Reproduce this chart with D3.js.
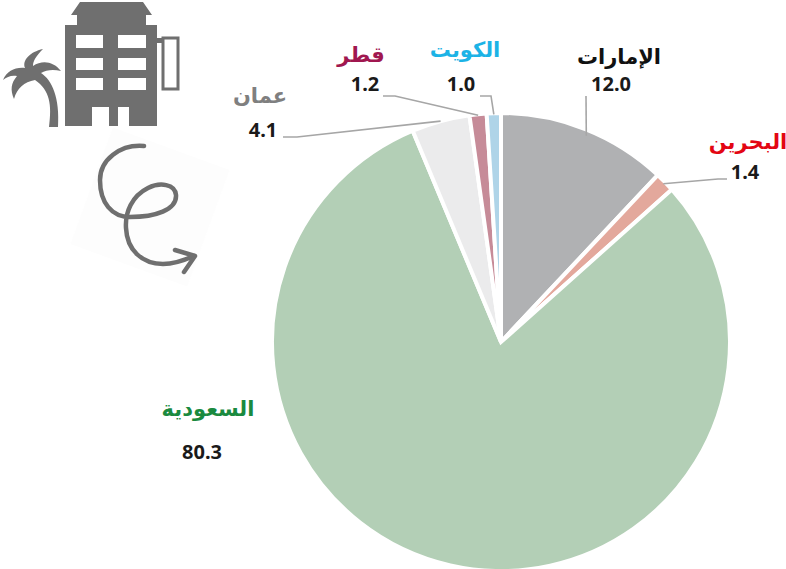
<!DOCTYPE html>
<html lang="ar"><head><meta charset="utf-8">
<script src="https://cdn.jsdelivr.net/npm/d3@7"></script>
<style>html,body{margin:0;padding:0;background:#fff}svg{display:block}text{font-family:"Noto Sans","Open Sans","DejaVu Sans",sans-serif;font-weight:700}</style>
</head><body><div id="c"></div>
<script>
const categories=["الإمارات","البحرين","السعودية","عمان","قطر","الكويت"];
const values=[12.0,1.4,80.3,4.1,1.2,1.0];
const sliceColors=["#b0b1b3","#e3a89c","#b3cfb6","#ebebec","#c68b98","#afd4e8"];
const nameColors=["#111111","#e30613","#1a8a3f","#7f7f7f","#a0174f","#1cb3e6"];

const W=786,H=569,cx=501,cy=342,R=229;
const svg=d3.select("#c").append("svg").attr("width",W).attr("height",H);

// decorative icons
const ic="#6f6f6f";
const deco=svg.append("g");
deco.append("rect").attr("x",-62).attr("y",-62).attr("width",124).attr("height",124).attr("fill","#fdfdfd")
  .attr("transform","translate(150,207) rotate(20)");
deco.append("path").attr("fill",ic).attr("fill-rule","evenodd").attr("d",
 "M80 2H143L152 15H146V25H157V126H129V107H118V126H109V107H92V126H65V25H77V15H71Z"+
 "M76 35V48H103V35ZM118 35V48H146V35ZM76 58V70H103V58ZM118 58V70H146V58ZM76 78V90H103V78ZM118 78V90H146V78Z");
deco.append("path").attr("fill",ic).attr("d","M157 38H164V43H157Z");
deco.append("rect").attr("x",163).attr("y",38).attr("width",15).attr("height",51).attr("fill","none").attr("stroke",ic).attr("stroke-width",3);
deco.append("path").attr("fill",ic).attr("d",
 "M49 127C52 105 50 90 35 80C24 82 17 88 14 99C10 90 11 83 17 76C11 75 7 77 3 80C7 71 15 67 25 68C22 60 30 52 43 49C36 56 33 61 33 66C42 60 53 61 61 71C53 69 46 70 41 73C52 80 60 98 58 127Z");
deco.append("path").attr("fill","none").attr("stroke",ic).attr("stroke-width",4.5).attr("stroke-linecap","round")
 .attr("d","M144 146C120 144 100 160 100 180C100 203 112 217 130 217C155 217 177 210 176 195C175 184 160 182 148 188C132 196 125 212 126 228C127 250 142 264 163 264C175 264 185 260 194 256");
deco.append("path").attr("fill","none").attr("stroke",ic).attr("stroke-width",4.5).attr("stroke-linecap","round").attr("stroke-linejoin","round")
 .attr("d","M175 250L195 256L184 272");

// pie
const pie=d3.pie().sort(null)(values);
const arc=d3.arc().innerRadius(0).outerRadius(R);
const g=svg.append("g").attr("transform",`translate(${cx},${cy})`);
g.selectAll("path").data(pie).join("path").attr("d",arc)
 .attr("fill",(d,i)=>sliceColors[i]).attr("stroke","#fff").attr("stroke-width",4).attr("stroke-linejoin","miter");

// label layout (by category order)
const nameAt=[[619,64],[748,149],[208,416],[260,103],[361,62],[465,57]];
const valueAt=[[611,91],[745,179],[202,459],[263,137],[365,91],[461,91]];
const leaderBends=[[[586,96]],[[718,179],[727,179]],null,[[297,137],[283,137]],[[395,96],[383,96]],[[491,96],[480,96]]];
const rim=[0.975,0.99,0,1.0,0.995,0.995];
const anglePad=[0.015,0,0,0,0,0];
const line=d3.line();
pie.forEach((d,i)=>{
  if(!leaderBends[i])return;
  const a=(d.startAngle+d.endAngle)/2+anglePad[i], r=R*rim[i];
  const p=[cx+r*Math.sin(a),cy-r*Math.cos(a)];
  svg.append("path").attr("d",line([p,...leaderBends[i]])).attr("fill","none").attr("stroke","#a6a6a6").attr("stroke-width",1.6);
});
svg.selectAll("text.n").data(categories).join("text").attr("class","n")
 .attr("x",(d,i)=>nameAt[i][0]).attr("y",(d,i)=>nameAt[i][1]).attr("text-anchor","middle")
 .attr("direction","rtl").attr("font-size",21).attr("fill",(d,i)=>nameColors[i]).text(d=>d);
svg.selectAll("text.v").data(values).join("text").attr("class","v")
 .attr("x",(d,i)=>valueAt[i][0]).attr("y",(d,i)=>valueAt[i][1]).attr("text-anchor","middle")
 .attr("font-size",20).attr("fill","#1a1a1a").text(d=>d.toFixed(1));
</script></body></html>
